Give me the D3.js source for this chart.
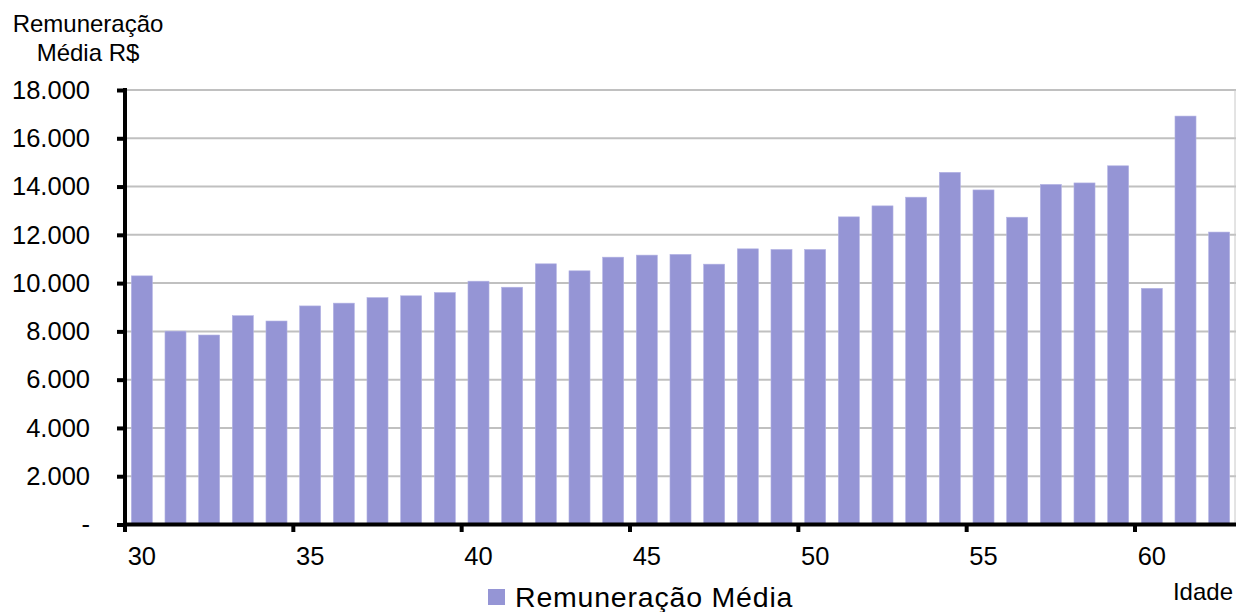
<!DOCTYPE html>
<html><head><meta charset="utf-8">
<script src="https://cdn.jsdelivr.net/npm/d3@7"></script>
<style>body{margin:0;background:#fff}svg{display:block;font-family:"Liberation Sans",Arial,sans-serif}</style>
</head><body><svg id="c" width="1236" height="612"></svg>
<script>
const ages = d3.range(30, 63);
const values = [10300,8010,7850,8650,8430,9055,9170,9400,9475,9610,10080,9830,10800,10510,11075,11160,11190,10785,11420,11395,11395,12745,13200,13560,14590,13860,12730,14090,14150,14860,9785,16920,12115];
const yTicks = [0,2000,4000,6000,8000,10000,12000,14000,16000,18000];
const xLabels = [30,35,40,45,50,55,60];
const seriesName = "Remuneração Média";

const svg = d3.select("#c");
const x = d3.scaleBand().domain(ages).range([125,1236]).paddingInner(0.375).paddingOuter(0.1875);
const y = d3.scaleLinear().domain([0,18000]).range([524.5,90]);
const fmt = v => v===0 ? "-" : d3.format(",")(v).replace(/,/g,".");

// gridlines
svg.append("g").selectAll("line").data(yTicks.filter(d=>d>0)).join("line")
  .attr("x1",125).attr("x2",1236).attr("y1",d=>y(d)).attr("y2",d=>y(d))
  .attr("stroke","#c0c0c0").attr("stroke-width",2);
svg.append("line").attr("x1",1235).attr("x2",1235).attr("y1",90).attr("y2",524).attr("stroke","#c8c8c8").attr("stroke-width",1);

// bars
svg.append("g").selectAll("rect").data(ages).join("rect")
  .attr("x",d=>x(d)).attr("width",x.bandwidth())
  .attr("y",(d,i)=>y(values[i])).attr("height",(d,i)=>y(0)-y(values[i]))
  .attr("fill","#9595d5").attr("stroke","#b4b4e4").attr("stroke-width",0.6);

// y axis
const ya = svg.append("g").attr("transform","translate(125,0)")
  .call(d3.axisLeft(y).tickValues(yTicks).tickFormat(fmt).tickSize(8).tickPadding(27));
ya.select(".domain").remove();
ya.selectAll(".tick line").attr("stroke","#000").attr("stroke-width",4);
ya.selectAll(".tick text").attr("font-size",25.5).attr("fill","#000").attr("font-family","Liberation Sans, Arial, sans-serif");
svg.append("line").attr("x1",125).attr("x2",125).attr("y1",88).attr("y2",526).attr("stroke","#000").attr("stroke-width",4);

// x axis
const step = x.step();
const tickPos = xLabels.map(a => x(a) - x.paddingInner()*step/2);
svg.append("g").selectAll("line").data(tickPos).join("line")
  .attr("x1",d=>d).attr("x2",d=>d).attr("y1",524).attr("y2",532)
  .attr("stroke","#000").attr("stroke-width",4);
svg.append("line").attr("x1",123).attr("x2",1236).attr("y1",524.5).attr("y2",524.5).attr("stroke","#000").attr("stroke-width",4);
svg.append("g").selectAll("text").data(xLabels).join("text")
  .attr("x",d=>x(d)+x.bandwidth()/2).attr("y",565).attr("text-anchor","middle")
  .attr("font-size",25.5).attr("fill","#000").text(d=>d);

// axis titles
const yt = svg.append("text").attr("text-anchor","middle").attr("font-size",24).attr("fill","#000");
yt.append("tspan").attr("x",88).attr("y",32).text("Remuneração");
yt.append("tspan").attr("x",88).attr("y",61).text("Média R$");
svg.append("text").attr("x",1233).attr("y",600).attr("text-anchor","end").attr("font-size",24).attr("fill","#000").text("Idade");

// legend
svg.append("rect").attr("x",488).attr("y",589).attr("width",17).attr("height",16).attr("fill","#9595d5");
svg.append("text").attr("x",515).attr("y",606.5).attr("font-size",28.5).attr("letter-spacing",0.8).attr("fill","#000").text(seriesName);
</script></body></html>
